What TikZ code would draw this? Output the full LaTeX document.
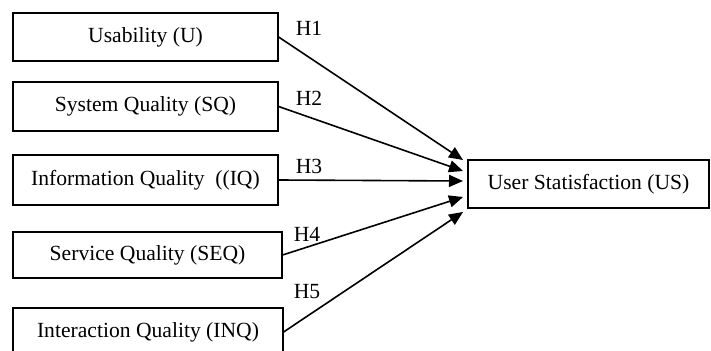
\documentclass[tikz,border=0pt]{standalone}
\usepackage{fontspec}
\setmainfont{Liberation Serif}
\usetikzlibrary{arrows.meta}

\begin{document}
\begin{tikzpicture}[x=0.5pt, y=-0.5pt,
    construct/.style={draw, line width=0.6pt, minimum height=24pt, inner sep=0pt, font=\fontsize{10.8}{13}\selectfont},
    hyp/.style={line width=0.8pt, -{Triangle[length=7pt, width=6pt]}},
    hlabel/.style={anchor=base, font=\fontsize{10.8}{13}\selectfont}]
    \useasboundingbox (0,0) rectangle (711,351);
    % independent constructs
    \node[construct, minimum width=132.5pt] (u) at (145.5, 37) {Usability (U)};
    \node[construct, minimum width=132.5pt, minimum height=24.5pt] (sq) at (145.5, 106.5) {System Quality (SQ)};
    \node[construct, minimum width=132.5pt, minimum height=25pt] (iq) at (145.5, 180) {Information Quality \ ((IQ)};
    \node[construct, minimum width=134.5pt, minimum height=23pt] (seq) at (147.5, 255) {Service Quality (SEQ)};
    \node[construct, minimum width=135pt] (inq) at (148, 332) {Interaction Quality (INQ)};
    % dependent construct
    \node[construct, minimum width=120.5pt] (us) at (588.5, 184) {User Statisfaction (US)};
    \coordinate (t1) at (463, 160);
    \coordinate (t2) at (463, 171);
    \coordinate (t3) at (463, 181);
    \coordinate (t4) at (463, 197);
    \coordinate (t5) at (463, 212);
    \draw[hyp] (u.east) -- (t1);
    \draw[hyp] (sq.east) -- (t2);
    \draw[hyp] (iq.east) -- (t3);
    \draw[hyp] (seq.east) -- (t4);
    \draw[hyp] (inq.east) -- (t5);
    \node[hlabel] (h1) at (309, 36) {H1};
    \node[hlabel] (h2) at (309, 106) {H2};
    \node[hlabel] (h3) at (309, 174) {H3};
    \node[hlabel] (h4) at (307, 242) {H4};
    \node[hlabel] (h5) at (307, 299) {H5};
\end{tikzpicture}
\end{document}
